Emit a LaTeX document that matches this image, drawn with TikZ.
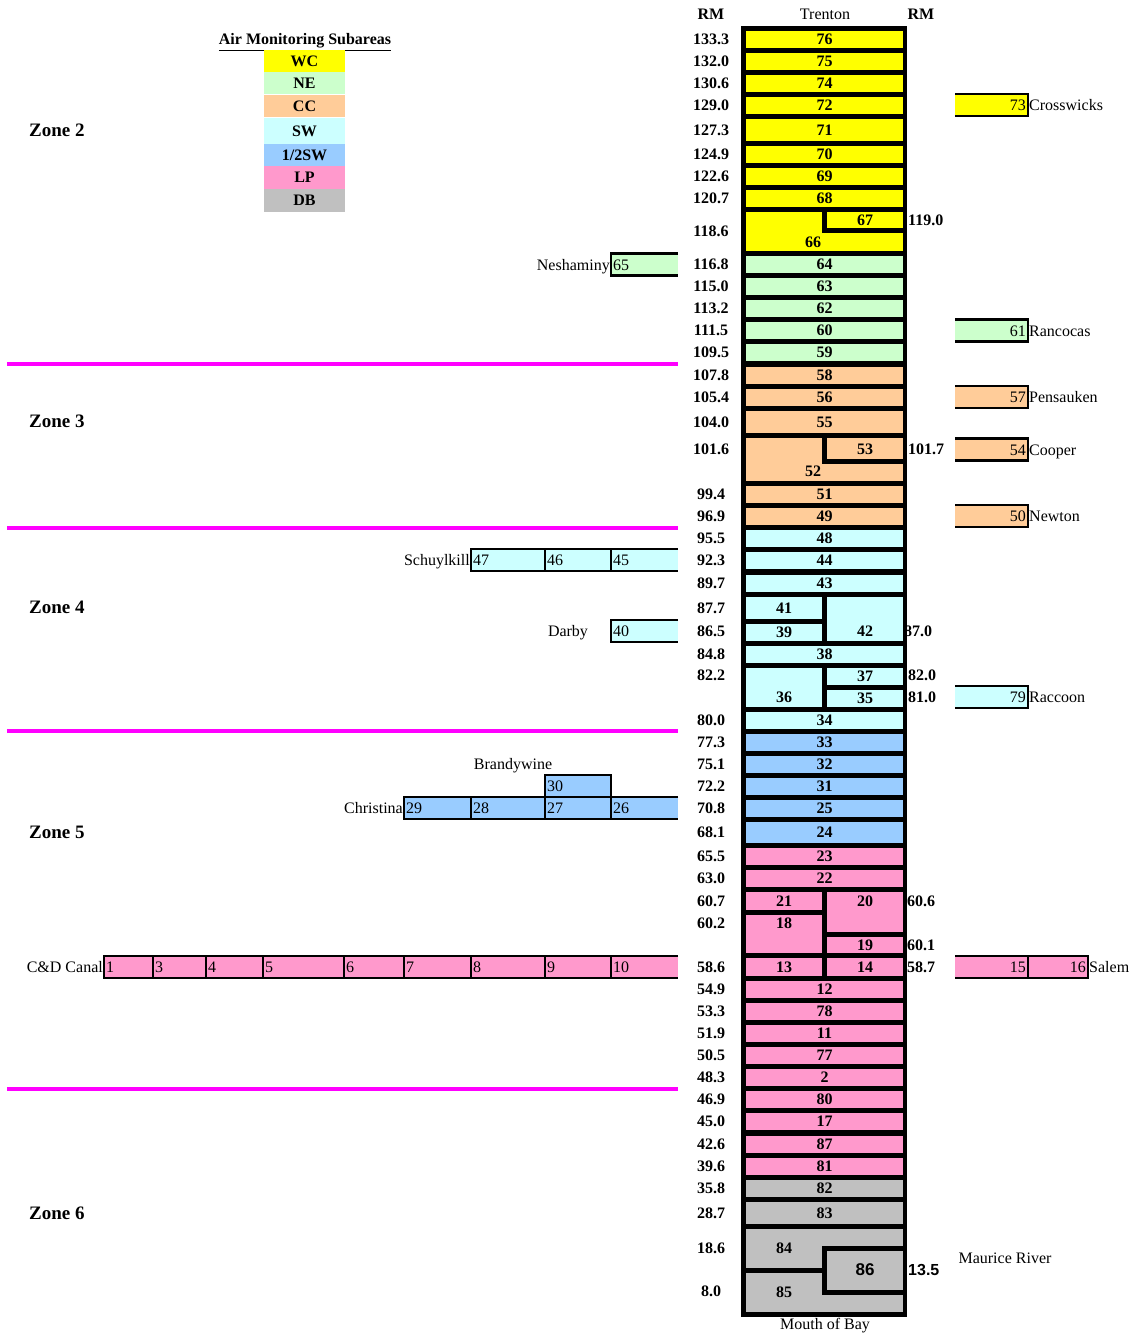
\documentclass[tikz,border=0pt]{standalone}
\usepackage{fontspec}
\setmainfont{Liberation Serif}
\newfontfamily\arialfont{Liberation Sans}
\usepackage{tikz}
\usetikzlibrary{positioning}

\definecolor{wc}{HTML}{FFFF00}
\definecolor{ne}{HTML}{CCFFCC}
\definecolor{cc}{HTML}{FFCC99}
\definecolor{sw}{HTML}{CCFFFF}
\definecolor{hsw}{HTML}{99CCFF}
\definecolor{lp}{HTML}{FF99CC}
\definecolor{db}{HTML}{C0C0C0}
\definecolor{zonepink}{HTML}{FF00FF}
\newcommand\bigsz{\fontsize{16}{19}\selectfont}

\begin{document}
\begin{tikzpicture}[x=1pt, y=-1pt,
    cell/.style={rectangle, inner sep=0pt, minimum width=157pt, font=\bigsz\bfseries},
    cellnum/.style={inner sep=0pt, font=\bigsz\bfseries},
    rml/.style={inner sep=0pt, font=\bigsz\bfseries},
    rmr/.style={inner sep=0pt, anchor=west, font=\bigsz\bfseries},
    tribox/.style={line width=2.5pt},
    trinum/.style={inner sep=2pt, text height=11pt, text depth=0pt, font=\bigsz},
    river/.style={inner sep=1pt, text height=11pt, text depth=0pt, font=\bigsz},
    zone/.style={anchor=west, inner sep=0pt, font=\fontsize{19}{22}\selectfont\bfseries},
    zoneline/.style={draw=zonepink, line width=4pt},
    legbox/.style={rectangle, inner sep=0pt, minimum width=81pt, font=\bigsz\bfseries}]
  \useasboundingbox (0,0) rectangle (1138,1335);

  % legend
  \node[inner sep=0pt, font=\bigsz\bfseries] (legtitle) at (305,42) {\underline{Air Monitoring Subareas}};
  \node[legbox, fill=wc, minimum height=21.7pt] (lwc) at (304.5,60.85) {WC};
  \node[legbox, fill=ne, minimum height=22.3pt, below=0pt of lwc] (lne) {NE};
  \node[legbox, fill=cc, minimum height=22.7pt, below=0pt of lne] (lcc) {CC};
  \node[legbox, fill=sw, minimum height=26pt, below=0pt of lcc] (lsw) {SW};
  \node[legbox, fill=hsw, minimum height=21.6pt, below=0pt of lsw] (lhsw) {1/2SW};
  \node[legbox, fill=lp, minimum height=22.4pt, below=0pt of lhsw] (llp) {LP};
  \node[legbox, fill=db, minimum height=22.6pt, below=0pt of llp] (ldb) {DB};

  % zones
  \node[zone] (z2) at (29,130) {Zone 2};
  \node[zone] (z3) at (29,421) {Zone 3};
  \node[zone] (z4) at (29,607) {Zone 4};
  \node[zone] (z5) at (29,832) {Zone 5};
  \node[zone] (z6) at (29,1213) {Zone 6};
  \foreach \yz in {364,528,731,1089}
    \draw[zoneline] (7,\yz) -- (678,\yz);

  % headings
  \node[rml] (rmleft) at (711,14) {RM};
  \node[inner sep=0pt, font=\bigsz] (trenton) at (825,14) {Trenton};
  \node[rml] (rmright) at (921,14) {RM};
  \node[inner sep=0pt, font=\bigsz] (bay) at (825,1326) {Mouth of Bay};

  % main river column
  \fill[black] (741,26) rectangle (907,1317);
  \foreach \lab/\yc/\hgt/\mile/\col in {
      76/39.5/17/133.3/wc, 75/61.5/17/132.0/wc, 74/83.5/17/130.6/wc, 72/105.5/17/129.0/wc,
      71/130/22/127.3/wc, 70/154.5/17/124.9/wc, 69/176.5/17/122.6/wc, 68/198.5/17/120.7/wc,
      64/264.5/17/116.8/ne, 63/286.5/17/115.0/ne, 62/308.5/17/113.2/ne, 60/330.5/17/111.5/ne,
      59/352.5/17/109.5/ne, 58/375/17/107.8/cc, 56/397.5/17/105.4/cc, 55/422/22/104.0/cc,
      51/494.5/17/99.4/cc, 49/516.5/17/96.9/cc, 48/538.5/17/95.5/sw, 44/560.5/17/92.3/sw,
      43/583/17/89.7/sw, 38/654.5/17/84.8/sw, 34/720.5/17/80.0/sw, 33/742.5/17/77.3/hsw,
      32/764.5/17/75.1/hsw, 31/786.5/17/72.2/hsw, 25/808.5/17/70.8/hsw, 24/832.5/21/68.1/hsw,
      23/856.5/17/65.5/lp, 22/878.5/17/63.0/lp, 12/989.5/17/54.9/lp, 78/1011.5/17/53.3/lp,
      11/1033.5/17/51.9/lp, 77/1055.5/17/50.5/lp, 2/1077.5/17/48.3/lp, 80/1099.5/17/46.9/lp,
      17/1121.5/17/45.0/lp, 87/1144/17/42.6/lp, 81/1166.5/17/39.6/lp, 82/1188.5/17/35.8/db,
      83/1213/22/28.7/db}
  {
    \node[cell, fill=\col, minimum height=\hgt pt] (c\lab) at (824.5,\yc) {\lab};
    \node[rml] (m\lab) at (711,\yc) {\mile};
  }

  % 66 / 67
  \fill[wc] (746,212) rectangle (903,251);
  \fill[black] (822,212) rectangle (827,233);
  \fill[black] (822,228) rectangle (903,233);
  \node[cellnum] (c67) at (865,220) {67};
  \node[cellnum] (c66) at (813,242) {66};
  \node[rml] (m66) at (711,231) {118.6};
  \node[rmr] (m67) at (908,220) {119.0};

  % 52 / 53
  \fill[cc] (746,438) rectangle (903,481);
  \fill[black] (822,438) rectangle (827,464);
  \fill[black] (822,459) rectangle (903,464);
  \node[cellnum] (c53) at (865,449) {53};
  \node[cellnum] (c52) at (813,471) {52};
  \node[rml] (m52) at (711,449) {101.6};
  \node[rmr] (m53) at (908,449) {101.7};

  % 41 / 39 / 42
  \fill[sw] (746,597) rectangle (903,641);
  \fill[black] (822,597) rectangle (827,641);
  \fill[black] (746,619) rectangle (822,624);
  \node[cellnum] (c41) at (784,608) {41};
  \node[cellnum] (c39) at (784,632.5) {39};
  \node[cellnum] (c42) at (865,631) {42};
  \node[rml] (m41) at (711,608) {87.7};
  \node[rml] (m39) at (711,631) {86.5};
  \node[rmr] (m42) at (904,631) {87.0};

  % 37 / 35 / 36
  \fill[sw] (746,668) rectangle (903,707);
  \fill[black] (822,668) rectangle (827,707);
  \fill[black] (827,685) rectangle (903,690);
  \node[cellnum] (c37) at (865,676.5) {37};
  \node[cellnum] (c35) at (865,698.5) {35};
  \node[cellnum] (c36) at (784,697) {36};
  \node[rml] (m36) at (711,675) {82.2};
  \node[rmr] (m37) at (908,675) {82.0};
  \node[rmr] (m35) at (908,697) {81.0};

  % 21 / 20 / 18 / 19
  \fill[lp] (746,892) rectangle (903,953);
  \fill[black] (822,892) rectangle (827,953);
  \fill[black] (746,909.5) rectangle (822,914.5);
  \fill[black] (827,931.5) rectangle (903,936.5);
  \node[cellnum] (c21) at (784,901) {21};
  \node[cellnum] (c20) at (865,901) {20};
  \node[cellnum] (c18) at (784,923) {18};
  \node[cellnum] (c19) at (865,945) {19};
  \node[rml] (m21) at (711,901) {60.7};
  \node[rml] (m18) at (711,923) {60.2};
  \node[rmr] (m20) at (907,901) {60.6};
  \node[rmr] (m19) at (907,945) {60.1};

  % 13 / 14
  \fill[lp] (746,958) rectangle (903,976);
  \fill[black] (822,958) rectangle (827,978);
  \node[cellnum] (c13) at (784,967) {13};
  \node[cellnum] (c14) at (865,967) {14};
  \node[rml] (m13) at (711,967) {58.6};
  \node[rmr] (m14) at (907,967) {58.7};

  % 84 / 85 / 86
  \fill[db] (746,1229) rectangle (903,1312);
  \fill[black] (822,1246) rectangle (903,1295);
  \fill[db] (827,1251) rectangle (903,1289.5);
  \fill[black] (746,1268) rectangle (822,1273);
  \node[cellnum] (c84) at (784,1248) {84};
  \node[cellnum] (c85) at (784,1292) {85};
  \node[inner sep=0pt, font=\fontsize{17}{20}\selectfont\arialfont\bfseries] (c86) at (865,1270) {86};
  \node[rml] (m84) at (711,1248) {18.6};
  \node[rml] (m85) at (711,1291) {8.0};
  \node[inner sep=0pt, anchor=west, font=\bigsz\arialfont\bfseries] (m86) at (908,1270) {13.5};

  % tributaries, west side
  \draw[tribox, fill=hsw] (545,775) rectangle (611,797);
  \node[trinum, anchor=west] (t30) at (545,786) {30};
  \foreach \lab/\xa/\xb/\yc/\col in {
      65/611/678/264.5/ne, 47/471/545/560/sw, 46/545/611/560/sw, 45/611/678/560/sw,
      40/611/678/631/sw, 29/404/471/808/hsw, 28/471/545/808/hsw, 27/545/611/808/hsw,
      26/611/678/808/hsw, 1/104/153/967/lp, 3/153/206/967/lp, 4/206/263/967/lp,
      5/263/344/967/lp, 6/344/404/967/lp, 7/404/471/967/lp, 8/471/545/967/lp,
      9/545/611/967/lp, 10/611/678/967/lp}
  {
    \fill[\col] (\xa,\yc-11) rectangle (\xb,\yc+11);
    \draw[tribox] (\xb,\yc-11) -- (\xa,\yc-11) -- (\xa,\yc+11) -- (\xb,\yc+11);
    \node[trinum, anchor=west] (t\lab) at (\xa,\yc) {\lab};
  }

  % tributaries, east side
  \foreach \lab/\xa/\xb/\yc/\col in {
      73/955/1028/105/wc, 61/955/1028/330.5/ne, 57/955/1028/397/cc, 54/955/1028/449.5/cc,
      50/955/1028/516/cc, 79/955/1028/697/sw, 16/1028/1088/967/lp, 15/955/1028/967/lp}
  {
    \fill[\col] (\xa,\yc-11) rectangle (\xb,\yc+11);
    \draw[tribox] (\xa,\yc-11) -- (\xb,\yc-11) -- (\xb,\yc+11) -- (\xa,\yc+11);
    \node[trinum, anchor=east] (t\lab) at (\xb,\yc) {\lab};
  }

  % river names
  \node[river, left=0pt of t65] (neshaminy) {Neshaminy};
  \node[river, left=0pt of t47] (schuylkill) {Schuylkill};
  \node[river] (darby) at (568,631) {Darby};
  \node[river] (brandywine) at (513,764) {Brandywine};
  \node[river, left=0pt of t29] (christina) {Christina};
  \node[river, left=0pt of t1] (canal) {C\&D Canal};
  \node[river, right=0pt of t73] (crosswicks) {Crosswicks};
  \node[river, right=0pt of t61] (rancocas) {Rancocas};
  \node[river, right=0pt of t57] (pensauken) {Pensauken};
  \node[river, right=0pt of t54] (cooper) {Cooper};
  \node[river, right=0pt of t50] (newton) {Newton};
  \node[river, right=0pt of t79] (raccoon) {Raccoon};
  \node[river, right=0pt of t16] (salem) {Salem};
  \node[river] (maurice) at (1005,1258) {Maurice River};
\end{tikzpicture}
\end{document}
